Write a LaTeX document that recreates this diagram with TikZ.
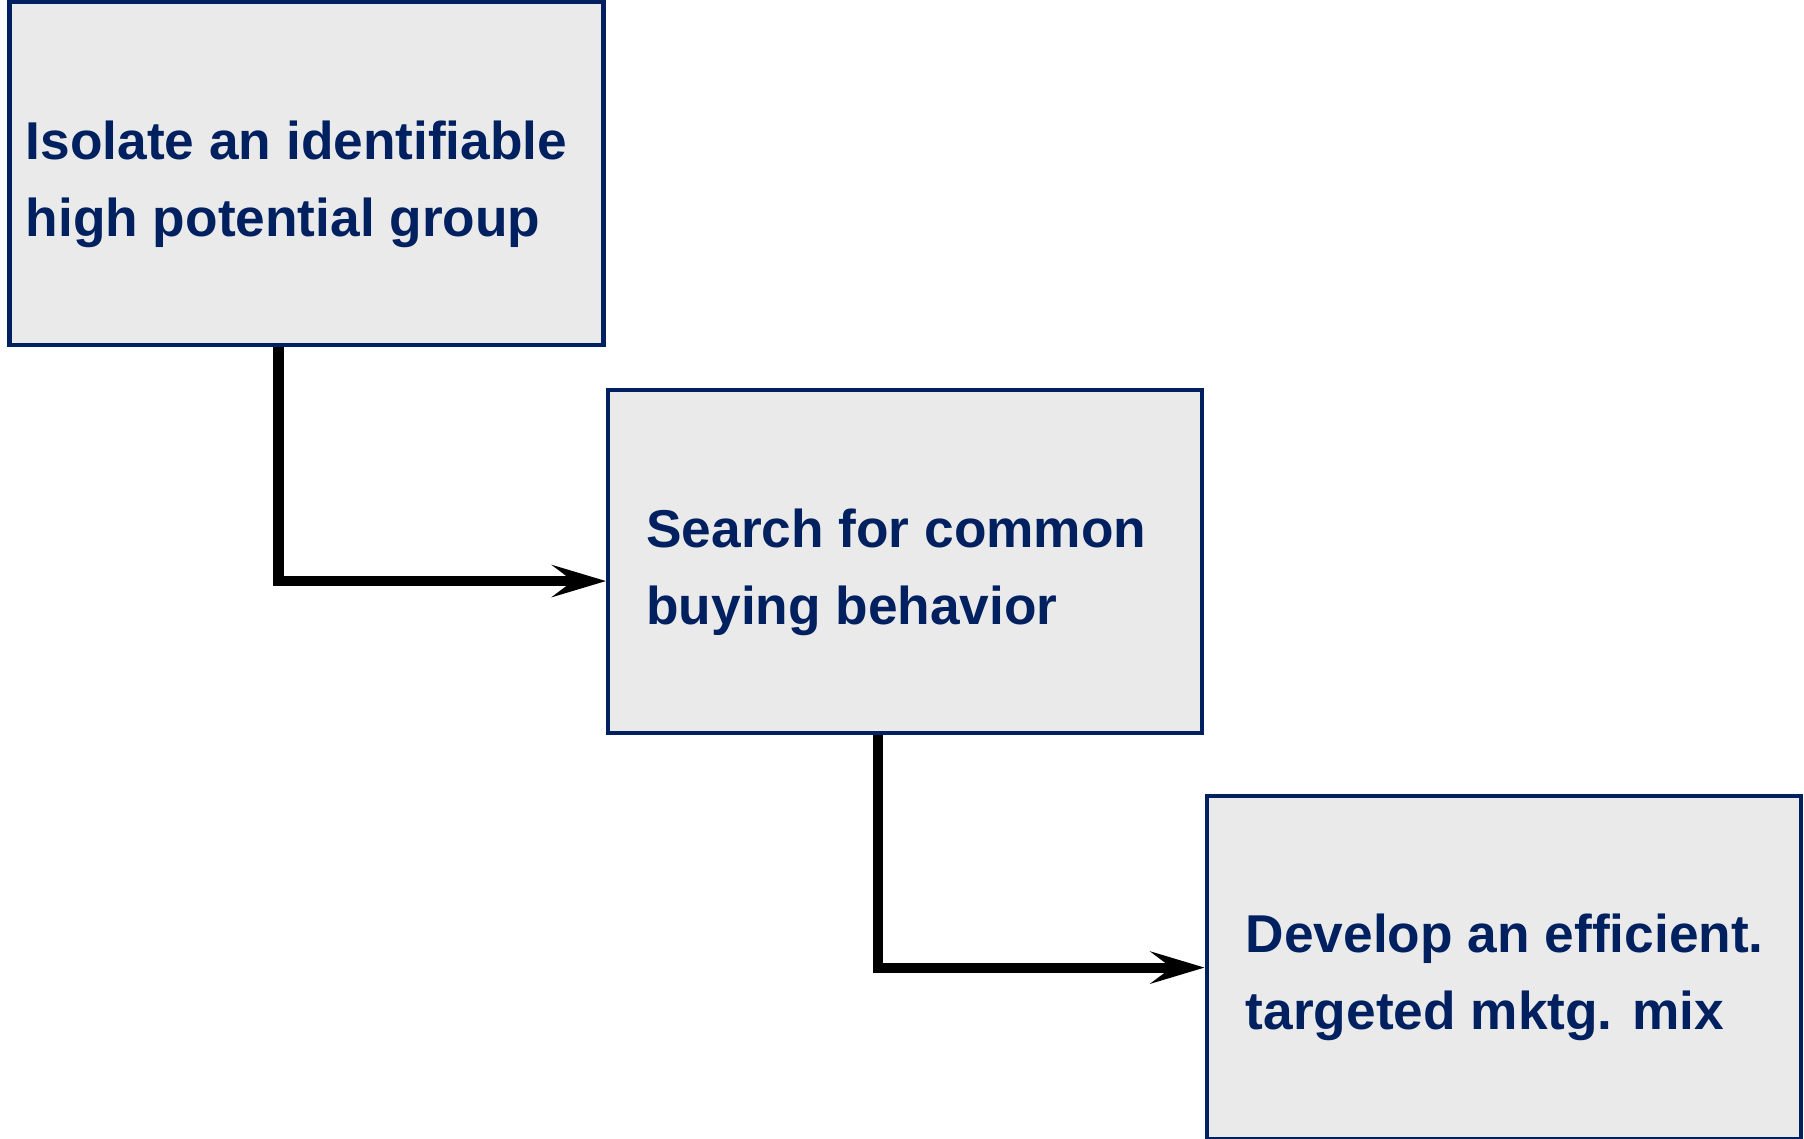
\documentclass[tikz,border=0pt]{standalone}
\usepackage{fontspec}
\setmainfont{Liberation Sans}
\usepackage{tikz}
\usetikzlibrary{positioning, arrows.meta}
\definecolor{navy}{RGB}{0,32,96}
\definecolor{boxgray}{RGB}{234,234,234}
\tikzstyle{stepbox} = [rectangle, minimum width=11.88cm, minimum
height=6.86cm, draw=navy, fill=boxgray, line width=2.3pt, inner sep=0pt]
\tikzstyle{steptext} = [anchor=west, align=left, text=navy, inner sep=0pt,
font=\fontsize{30.3pt}{43.8pt}\selectfont\bfseries]
\tikzstyle{arrow} = [line width=5.7pt, ->,
>={Stealth[length=1.08cm, width=0.64cm, inset=0.42cm]}]

\begin{document}
\begin{tikzpicture}
    % \draw[help lines] (0,0) grid (36,-23);
    \useasboundingbox (0,0) rectangle (36.08,-22.78);
    \node (I) [stepbox] at (6.13,-3.47) {}; \node (S) [stepbox, below
      right=0.82cm and 0.01cm of I.south east] {}; \node (D) [stepbox, below
      right=1.18cm and 0.01cm of S.south east] {};

    \node (It) [steptext] at ([xshift=0.36cm, yshift=-0.22cm]I.west)
    {Isolate an identifiable\\high potential group}; \node (St) [steptext]
    at ([xshift=0.8cm, yshift=-0.22cm]S.west) {Search for common\\buying
      behavior}; \node (Dt) [steptext] at ([xshift=0.82cm,
      yshift=-0.2cm]D.west) {Develop an efficient.\\targeted mktg. mix};

    \draw [arrow] ([xshift=-0.56cm]I.south) |- ([yshift=-0.39cm]S.west);
    \draw [arrow] ([xshift=-0.55cm]S.south) |- (D.west);

  \end{tikzpicture}
\end{document}
